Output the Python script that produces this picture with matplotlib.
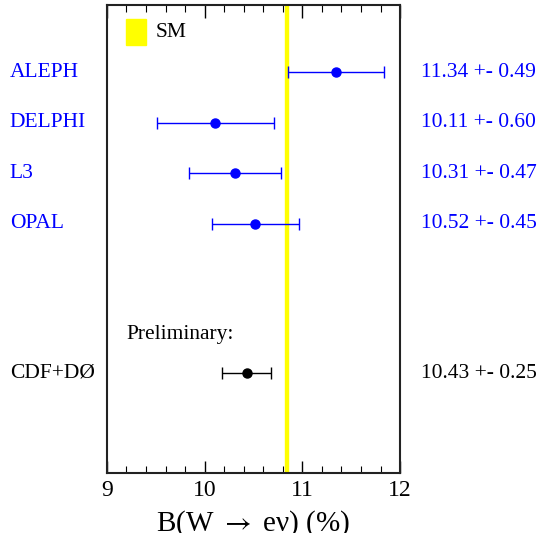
import matplotlib
matplotlib.use("Agg")
import matplotlib.pyplot as plt
from matplotlib.ticker import MultipleLocator
from matplotlib.patches import Rectangle

experiments = ["ALEPH", "DELPHI", "L3", "OPAL", "CDF+DØ"]
values = [11.34, 10.11, 10.31, 10.52, 10.43]
errors = [0.49, 0.60, 0.47, 0.45, 0.25]
rows = [1, 2, 3, 4, 6.96]
colors = ["#0000ff", "#0000ff", "#0000ff", "#0000ff", "#000000"]
sm_value = 10.835
sm_halfwidth = 0.018

plt.rcParams['font.family'] = ['Liberation Serif', 'DejaVu Serif']
plt.rcParams['mathtext.fontset'] = 'stix'

fig = plt.figure(figsize=(5.4, 5.33), dpi=100)
ax = fig.add_axes([0.198, 0.1126, 0.543, 0.878])

ax.axvspan(sm_value - sm_halfwidth, sm_value + sm_halfwidth, color="#ffff00", zorder=1)

for name, v, e, r, c in zip(experiments, values, errors, rows, colors):
    ax.errorbar(v, r, xerr=e, fmt="o", color=c, ms=6.5, capsize=4, elinewidth=1.0,
                capthick=1.0, zorder=3)
    ax.text(-0.331, r, name, transform=ax.get_yaxis_transform(), color=c,
            fontsize=15.5, ha="left", va="center")
    ax.text(1.072, r, f"{v:.2f} +- {e:.2f}", transform=ax.get_yaxis_transform(), color=c,
            fontsize=15.5, ha="left", va="center")

ax.text(0.065, 6.2, "Preliminary:", transform=ax.get_yaxis_transform(),
        fontsize=15.5, ha="left", va="center")

# SM legend
ax.add_patch(Rectangle((0.065, 0.915), 0.068, 0.055, transform=ax.transAxes,
                       color="#ffff00", zorder=2))
ax.text(0.165, 0.942, "SM", transform=ax.transAxes, fontsize=15.5, ha="left", va="center")

ax.set_xlim(9, 12)
ax.set_ylim(8.94, -0.33)
ax.set_yticks([])
ax.xaxis.set_major_locator(MultipleLocator(1))
ax.xaxis.set_minor_locator(MultipleLocator(0.2))
ax.tick_params(axis="x", which="both", direction="in", top=True, bottom=True,
               labelsize=17, pad=5)
ax.tick_params(axis="x", which="major", length=9, width=1.0)
ax.tick_params(axis="x", which="minor", length=5, width=0.8)
for s in ax.spines.values():
    s.set_linewidth(1.5)
    s.set_color("#222222")

ax.set_xlabel("B(W $\\rightarrow$ eν) (%)", fontsize=21, labelpad=5)

fig.savefig("out.png", dpi=100)
